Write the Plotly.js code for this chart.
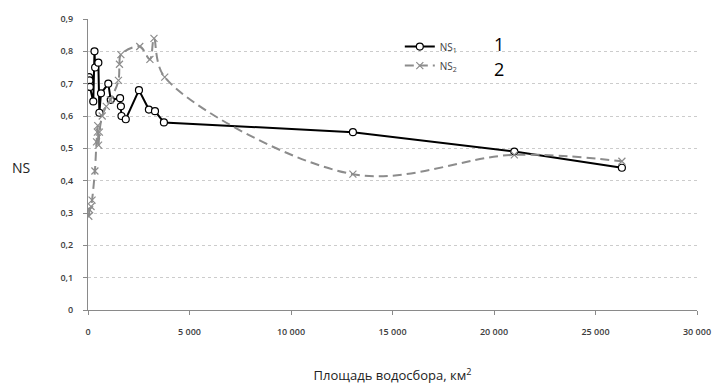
<!DOCTYPE html>
<html>
<head>
<meta charset="utf-8">
<script src="https://cdn.plot.ly/plotly-3.0.1.min.js"></script>
<style>html,body{margin:0;padding:0;background:#fff;}#chart{width:720px;height:389px;}</style>
</head>
<body>
<div id="chart"></div>
<script>
// Catchment area, km2
const ns1Area = [50, 70, 90, 260, 320, 350, 510, 560, 640, 1000, 1120, 1580, 1620, 1650, 1860, 2510, 3000, 3300, 3740, 13050, 21000, 26300];
const ns1Values = [0.72, 0.71, 0.69, 0.645, 0.80, 0.75, 0.765, 0.61, 0.67, 0.70, 0.65, 0.655, 0.63, 0.60, 0.59, 0.68, 0.62, 0.615, 0.58, 0.55, 0.49, 0.44];

const ns2Area = [40, 80, 150, 200, 340, 420, 460, 480, 520, 560, 700, 900, 1100, 1500, 1550, 1620, 2550, 3050, 3250, 3780, 13050, 21000, 26300];
const ns2Values = [0.29, 0.31, 0.32, 0.34, 0.43, 0.52, 0.55, 0.57, 0.51, 0.55, 0.60, 0.63, 0.65, 0.71, 0.76, 0.79, 0.815, 0.775, 0.84, 0.72, 0.42, 0.48, 0.46];

const xTickVals = [0, 5000, 10000, 15000, 20000, 25000, 30000];
const xTickText = ['0', '5 000', '10 000', '15 000', '20 000', '25 000', '30 000'];
const yTickVals = [0, 0.1, 0.2, 0.3, 0.4, 0.5, 0.6, 0.7, 0.8, 0.9];
const yTickText = ['0', '0,1', '0,2', '0,3', '0,4', '0,5', '0,6', '0,7', '0,8', '0,9'];

const seriesNames = ['NS<sub>1</sub>', 'NS<sub>2</sub>'];
const seriesLabels = ['1', '2'];
const yTitle = 'NS';
const xTitle = 'Площадь водосбора, км<sup>2</sup>';

const FONT = 'Open Sans, Noto Sans, sans-serif';
const tickFont = {family: FONT, size: 9, color: '#3c3c3c', weight: 600};

const traces = [
  {
    x: ns1Area, y: ns1Values, name: seriesNames[0], type: 'scatter', mode: 'lines+markers',
    line: {color: '#000000', width: 2},
    marker: {symbol: 'circle', size: 7, color: '#ffffff', line: {color: '#000000', width: 1.2}}
  },
  {
    x: ns2Area, y: ns2Values, name: seriesNames[1], type: 'scatter', mode: 'lines+markers',
    line: {color: '#8c8c8c', width: 2, dash: '9px,5px', shape: 'spline', smoothing: 1},
    marker: {symbol: 'x-thin', size: 7, color: '#8c8c8c', line: {color: '#8c8c8c', width: 1.2}}
  }
];

const layout = {
  width: 720, height: 389,
  margin: {l: 88, r: 23, t: 19, b: 79},
  paper_bgcolor: '#ffffff', plot_bgcolor: '#ffffff',
  showlegend: true,
  legend: {
    x: 0.512, y: 0.955, xanchor: 'left', yanchor: 'top',
    bgcolor: 'rgba(0,0,0,0)', tracegroupgap: 0,
    font: {family: FONT, size: 10, color: '#404040'},
    itemwidth: 30
  },
  xaxis: {
    range: [0, 30000], tickvals: xTickVals, ticktext: xTickText,
    showgrid: false, zeroline: false,
    showline: true, linecolor: '#8a8a8a', linewidth: 1,
    ticks: 'outside', ticklen: 4, tickcolor: '#8a8a8a',
    ticklabelstandoff: 9,
    tickfont: tickFont,
    title: {text: xTitle, font: {family: FONT, size: 13, color: '#222'}, standoff: 34}
  },
  yaxis: {
    range: [0, 0.9], tickvals: yTickVals, ticktext: yTickText,
    showgrid: true, gridcolor: '#cccccc', griddash: '3px,3px', gridwidth: 1,
    zeroline: false,
    showline: true, linecolor: '#8a8a8a', linewidth: 1,
    ticks: 'outside', ticklen: 4, tickcolor: '#8a8a8a',
    ticklabelstandoff: 8,
    tickfont: tickFont
  },
  annotations: [
    {xref: 'paper', yref: 'paper', x: -0.11, y: 0.49, xanchor: 'center', yanchor: 'middle', text: yTitle, showarrow: false, font: {family: FONT, size: 14, color: '#222'}},
    {xref: 'paper', yref: 'paper', x: 0.664, y: 0.913, xanchor: 'left', yanchor: 'middle', text: seriesLabels[0], showarrow: false, font: {family: FONT, size: 18, color: '#000'}},
    {xref: 'paper', yref: 'paper', x: 0.664, y: 0.829, xanchor: 'left', yanchor: 'middle', text: seriesLabels[1], showarrow: false, font: {family: FONT, size: 18, color: '#000'}}
  ]
};

Plotly.newPlot('chart', traces, layout, {displayModeBar: false, staticPlot: true});
</script>
</body>
</html>
